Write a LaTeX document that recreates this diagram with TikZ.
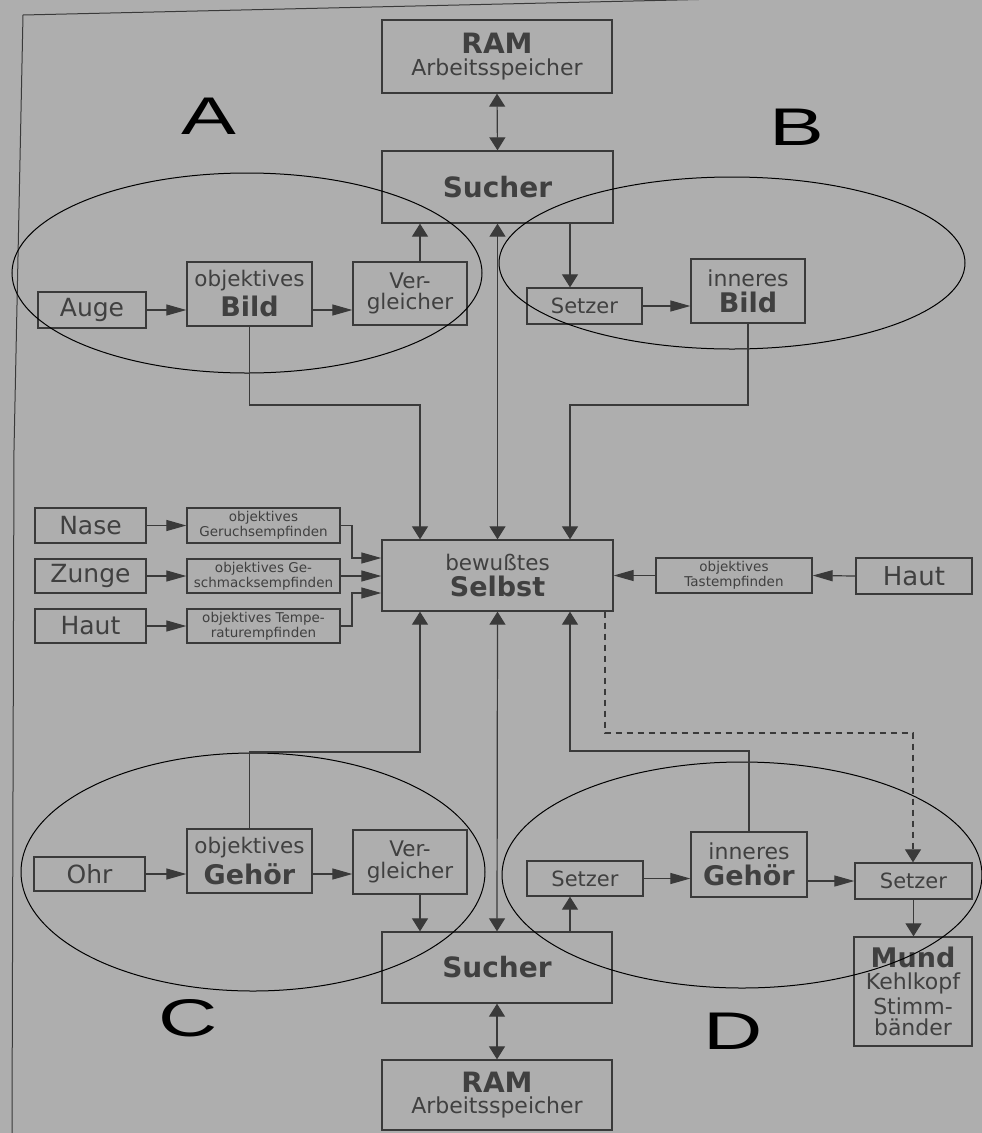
\documentclass[tikz,border=0pt]{standalone}
\usepackage{fontspec}
\usepackage{graphicx}
\setmainfont{DejaVu Sans}
\newfontfamily\letterfont{Liberation Sans}
\usetikzlibrary{arrows.meta,calc}
\definecolor{bg}{HTML}{AEAEAE}
\definecolor{ink}{HTML}{3A3A3A}
\definecolor{txt}{HTML}{404040}
\newcommand\fs[1]{\fontsize{#1}{#1}\selectfont}
\newcommand\wideL[1]{\scalebox{1.55}[1]{#1}}
\tikzset{
  box/.style={draw=ink, line width=1.3pt, inner sep=0pt, text=txt, align=center},
  harr/.style={draw=ink, line width=1.2pt, -{Triangle[length=20pt,width=11pt]}},
  varr/.style={draw=ink, line width=1.2pt, -{Triangle[length=13pt,width=16pt]}},
  dvarr/.style={draw=ink, line width=1.2pt, {Triangle[length=13pt,width=16pt]}-{Triangle[length=13pt,width=16pt]}},
  oval/.style={draw=black, line width=1pt},
  letter/.style={text=black, inner sep=0pt, font=\letterfont\fontsize{53}{53}\selectfont},
  frameline/.style={draw=ink, line width=1pt}
}
\begin{document}
\begin{tikzpicture}[x=1pt,y=-1pt]
\useasboundingbox (0,0) rectangle (982,1133);
\fill[bg] (0,0) rectangle (982,1133);
\clip (0,0) rectangle (982,1133);
\draw[frameline] (982,-7) -- (23,15) -- (14,450) -- (12,1133);

% ---- top part
\node[box, minimum width=230, minimum height=73] (ramT) at (497,56.5)
  {{\fs{28}\bfseries RAM}\\[4pt]{\fs{22}Arbeitsspeicher}};
\node[box, minimum width=231, minimum height=72] (sucT) at (497.5,187)
  {\fs{28}\bfseries Sucher};
\node[box, minimum width=108, minimum height=36] (auge) at (92,310) {\fs{25}Auge};
\node[box, minimum width=125, minimum height=64] (bildA) at (249.5,294)
  {{\fs{21.5}objektives}\\[4pt]{\fs{27}\bfseries Bild}};
\node[box, minimum width=114, minimum height=63] (vglA) at (410,293.5)
  {{\fs{21.5}Ver-}\\[4pt]{\fs{21.5}gleicher}};
\node[box, minimum width=115, minimum height=36] (setzB) at (584.5,306) {\fs{21}Setzer};
\node[box, minimum width=114, minimum height=64] (ibild) at (748,291)
  {{\fs{22}inneres}\\[4pt]{\fs{27}\bfseries Bild}};

% ---- middle
\node[box, minimum width=231, minimum height=71] (selbst) at (497.5,575.5)
  {{\fs{21.5}bewußtes}\\[5pt]{\fs{27}\bfseries Selbst}};
\node[box, minimum width=111, minimum height=35] (nase) at (90.5,525.5) {\fs{25}Nase};
\node[box, minimum width=111, minimum height=34] (zunge) at (90.5,576) {\fs{25}Zunge};
\node[box, minimum width=111, minimum height=34] (hautL) at (90.5,626) {\fs{25}Haut};
\node[box, minimum width=153, minimum height=35] (geruch) at (263.5,525.5)
  {{\fs{13.5}objektives}\\[1pt]{\fs{13.5}Geruchsempfinden}};
\node[box, minimum width=153, minimum height=34] (geschm) at (263.5,576)
  {{\fs{13.5}objektives Ge-}\\[1pt]{\fs{13.5}schmacksempfinden}};
\node[box, minimum width=153, minimum height=34] (temp) at (263.5,626)
  {{\fs{13.5}objektives Tempe-}\\[1pt]{\fs{13.5}raturempfinden}};
\node[box, minimum width=156, minimum height=35] (tast) at (734,575.5)
  {{\fs{13.5}objektives}\\[1pt]{\fs{13.5}Tastempfinden}};
\node[box, minimum width=116, minimum height=36] (hautR) at (914,576) {\fs{26}Haut};

% ---- bottom part
\node[box, minimum width=111, minimum height=34] (ohr) at (89.5,874) {\fs{25}Ohr};
\node[box, minimum width=125, minimum height=64] (gehoerC) at (249.5,861)
  {{\fs{21.5}objektives}\\[4pt]{\fs{27}\bfseries Gehör}};
\node[box, minimum width=114, minimum height=64] (vglC) at (410,862)
  {{\fs{21.5}Ver-}\\[4pt]{\fs{21.5}gleicher}};
\node[box, minimum width=116, minimum height=35] (setzL) at (585,878.5) {\fs{21}Setzer};
\node[box, minimum width=116, minimum height=65] (igehoer) at (749,864.5)
  {{\fs{22}inneres}\\[4pt]{\fs{27}\bfseries Gehör}};
\node[box, minimum width=117, minimum height=36] (setzR) at (913.5,881) {\fs{21}Setzer};
\node[box, minimum width=118, minimum height=109] (mund) at (913,991.5)
  {{\fs{27}\bfseries Mund}\\[4pt]{\fs{22}Kehlkopf}\\[3pt]{\fs{22}Stimm-}\\[3pt]{\fs{22}bänder}};
\node[box, minimum width=230, minimum height=71] (sucB) at (497,967.5)
  {\fs{28}\bfseries Sucher};
\node[box, minimum width=230, minimum height=70] (ramB) at (497,1095)
  {{\fs{28}\bfseries RAM}\\[4pt]{\fs{22}Arbeitsspeicher}};

% ---- ellipses and letters
\draw[oval] (247,273) ellipse [x radius=235, y radius=100];
\draw[oval] (732,263) ellipse [x radius=233, y radius=86];
\draw[oval] (253,872) ellipse [x radius=232, y radius=119];
\draw[oval] (742,875) ellipse [x radius=240, y radius=113];
\node[letter] (lA) at (209,116) {\wideL{A}};
\node[letter] (lB) at (797,127) {\wideL{B}};
\node[letter] (lC) at (188,1018) {\wideL{C}};
\node[letter] (lD) at (733,1031) {\wideL{D}};

% ---- junction coordinates
\coordinate (jA) at (420,405);
\coordinate (jB) at (570,405);
\coordinate (jC) at (420,752);
\coordinate (jD) at (570,751);
\coordinate (kG) at (352,558);
\coordinate (kT) at (352,593);
\coordinate (dA) at (605,733);
\coordinate (dB) at (913,733);

% ---- connectors top
\draw[dvarr] (ramT.south) -- (sucT.north);
\draw[dvarr] (sucT.south) -- (selbst.north);
\draw[varr] (vglA.north -| jA) -- (sucT.south -| jA);
\draw[varr] (sucT.south -| jB) -- (setzB.north -| jB);
\draw[harr] (auge.east) -- (bildA.west |- auge.east);
\draw[harr] (bildA.east |- auge.east) -- (vglA.west |- auge.east);
\draw[harr] (setzB.east) -- (ibild.west |- setzB.east);
\draw[varr] (bildA.south) |- (jA) -- (jA |- selbst.north);
\draw[varr] (ibild.south) |- (jB) -- (jB |- selbst.north);

% ---- connectors middle
\draw[harr] (nase.east) -- (geruch.west);
\draw[harr] (zunge.east) -- (geschm.west);
\draw[harr] (hautL.east) -- (temp.west);
\draw[harr] (geruch.east) -| (kG) -- (kG -| selbst.west);
\draw[harr] (geschm.east) -- (geschm.east -| selbst.west);
\draw[harr] (temp.east) -| (kT) -- (kT -| selbst.west);
\draw[harr] (hautR.west) -- (tast.east);
\draw[harr] (tast.west) -- (tast.west -| selbst.east);

% ---- connectors bottom
\draw[varr] (gehoerC.north) |- (jC) -- (jC |- selbst.south);
\draw[varr] (igehoer.north) |- (jD) -- (jD |- selbst.south);
\draw[dvarr] (selbst.south) -- (sucB.north);
\draw[varr, dash pattern=on 6pt off 5pt] (dA |- selbst.south) -- (dA) -- (dB) -- (dB |- setzR.north);
\draw[harr] (ohr.east) -- (gehoerC.west |- ohr.east);
\draw[harr] (gehoerC.east |- ohr.east) -- (vglC.west |- ohr.east);
\draw[varr] (vglC.south -| jC) -- (sucB.north -| jC);
\draw[varr] (sucB.north -| jD) -- (setzL.south -| jD);
\draw[harr] (setzL.east) -- (igehoer.west |- setzL.east);
\draw[harr] (igehoer.east |- setzR.west) -- (setzR.west);
\draw[varr] (setzR.south) -- (setzR.south |- mund.north);
\draw[dvarr] (sucB.south) -- (ramB.north);
\end{tikzpicture}
\end{document}
